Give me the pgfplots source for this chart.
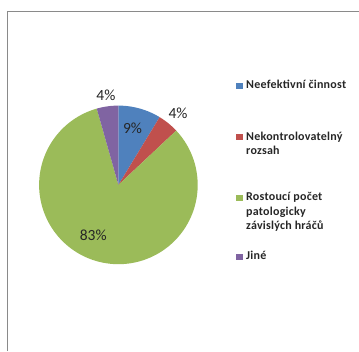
\documentclass[border=0pt]{standalone}
\usepackage{pgfplots}
\pgfplotsset{compat=1.18}
\usepackage{fontspec}
\setmainfont{Carlito}
\newfontfamily\legfont[LetterSpace=2]{Carlito}

\definecolor{pblue}{HTML}{4F81BD}
\definecolor{pred}{HTML}{C0504D}
\definecolor{pgreen}{HTML}{9BBB59}
\definecolor{ppurple}{HTML}{8064A2}
\definecolor{framegray}{HTML}{8A8A8A}
\definecolor{labtext}{HTML}{262626}

\tikzset{pct/.style={font=\fontsize{15.5}{17}\selectfont, text=labtext}}

\begin{document}
\begin{tikzpicture}
  \path[use as bounding box] (0,0) rectangle (359pt,351pt);
  \draw[framegray, line width=1.3pt] (7.5pt,0pt) -- (7.5pt,339.5pt) -- (359pt,339.5pt);

  \begin{axis}[
    at={(118.4pt,166.1pt)}, anchor=center,
    scale only axis, width=158.6pt, height=158.6pt,
    xmin=-1, xmax=1, ymin=-1, ymax=1,
    hide axis, clip=false,
  ]
    % shares in percent: 8.7, 4.3, 82.6, 4.4 (clockwise from 12 o'clock)
    \addplot[fill=pblue, draw=none, domain=0:3.6*8.7, samples=20]
      ({sin(x)}, {cos(x)}) -- (0,0) -- cycle;
    \addplot[fill=pred, draw=none, domain=3.6*8.7:3.6*13.0, samples=12]
      ({sin(x)}, {cos(x)}) -- (0,0) -- cycle;
    \addplot[fill=pgreen, draw=none, domain=3.6*13.0:3.6*95.6, samples=120]
      ({sin(x)}, {cos(x)}) -- (0,0) -- cycle;
    \addplot[fill=ppurple, draw=none, domain=3.6*95.6:360, samples=12]
      ({sin(x)}, {cos(x)}) -- (0,0) -- cycle;

    \node[pct] at (axis cs:0.179,0.72) {9\%};
    \node[pct] at (axis cs:0.752,0.90) {4\%};
    \node[pct] at (axis cs:-0.157,1.132) {4\%};
    \node[pct] at (axis cs:-0.317,-0.629) {83\%};
  \end{axis}

  % legend
  \begin{scope}[every node/.style={anchor=base west, inner sep=0pt,
      font=\legfont\fontsize{12}{14.5}\selectfont\bfseries, text=labtext}]
    \fill[pblue]   (236pt,262pt) rectangle (243pt,268pt);
    \node at (246pt,262.5pt) {\vtop{\hbox{Neefektivní činnost}}};
    \fill[pred]    (236pt,211pt) rectangle (243pt,217pt);
    \node at (246pt,210.5pt) {\vtop{\baselineskip=14.5pt\hbox{Nekontrolovatelný}\hbox{rozsah}}};
    \fill[pgreen]  (236pt,150pt) rectangle (243pt,156pt);
    \node at (246pt,150pt) {\vtop{\baselineskip=14.5pt\hbox{Rostoucí počet}\hbox{patologicky}\hbox{závislých hráčů}}};
    \fill[ppurple] (236pt,91pt) rectangle (243pt,97pt);
    \node at (246pt,91pt) {\vtop{\hbox{Jiné}}};
  \end{scope}
\end{tikzpicture}
\end{document}
